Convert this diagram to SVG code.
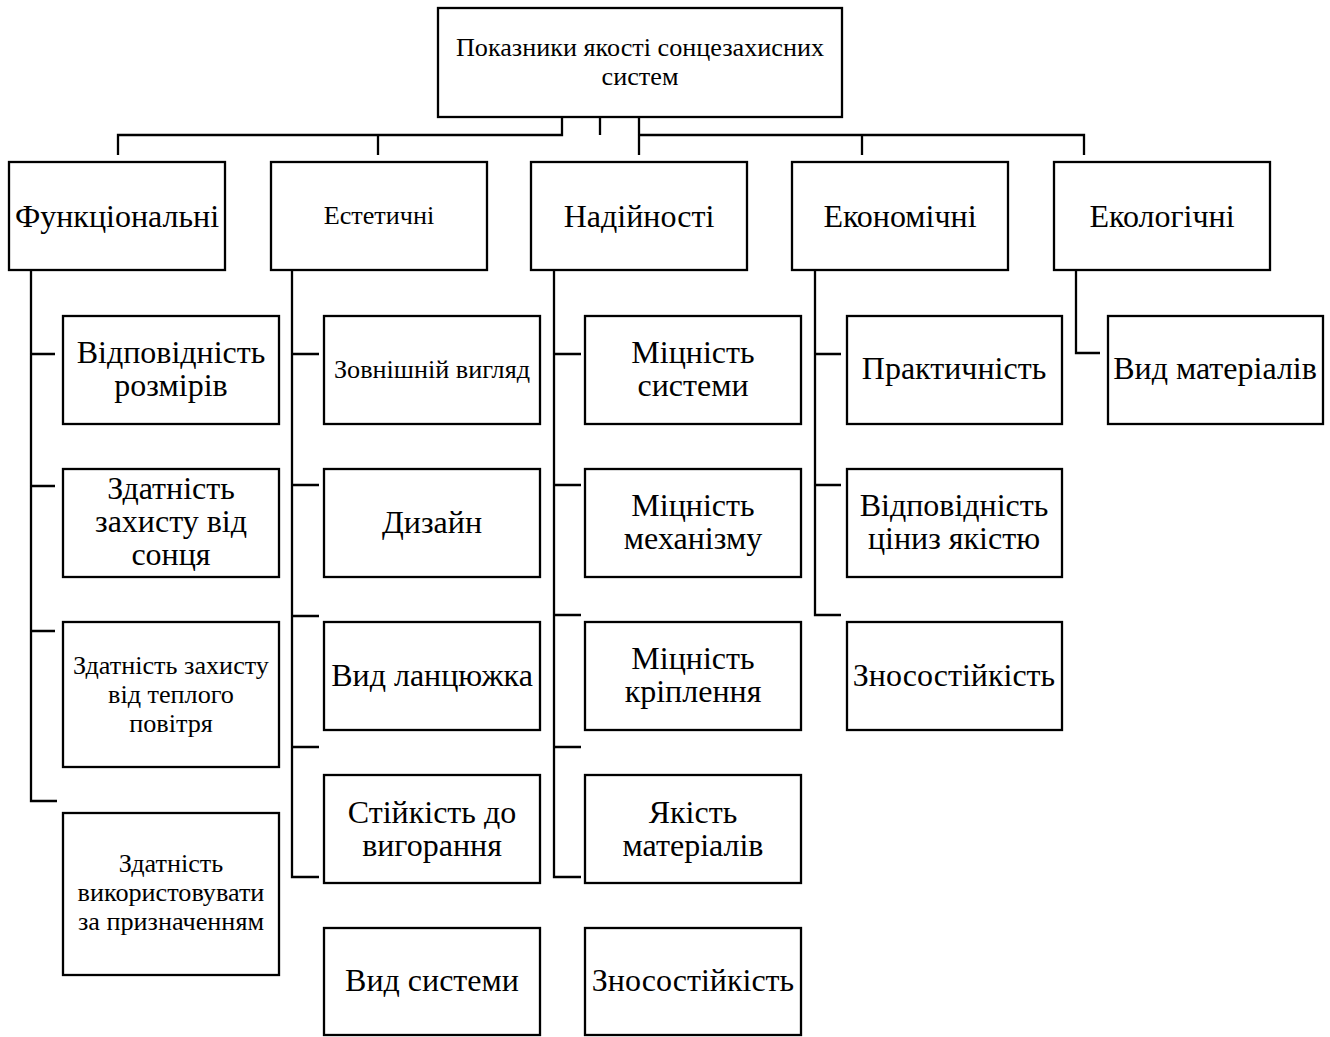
<svg xmlns="http://www.w3.org/2000/svg" width="1330" height="1037" viewBox="0 0 1330 1037">
<style>
.box{fill:#fff;stroke:#000;stroke-width:2.3}
.ln{fill:none;stroke:#000;stroke-width:2.3}
text{font-family:"Liberation Serif","Times New Roman",serif;fill:#000;text-anchor:middle}
.l{font-size:32px}
.s{font-size:26.2px}
</style>
<rect width="1330" height="1037" fill="#fff"/>
<g id="connectors">
<path class="ln" d="M562,117V135H118V155M600,117V135M378,135V155M639,117V155M639,135H1084V155M862,135V155"/>
<path class="ln" d="M31,270V801H57M31,354H55M31,486H55M31,631H55"/>
<path class="ln" d="M292,270V877H319M292,354H319M292,485H319M292,616H319M292,747H319"/>
<path class="ln" d="M554,270V877H581M554,354H581M554,485H581M554,615H581M554,747H581"/>
<path class="ln" d="M815,270V615H841M815,354H841M815,485H841"/>
<path class="ln" d="M1076,270V353H1100"/>
</g>
<g id="root"><rect class="box" x="438" y="8" width="404" height="109"/><text class="s" x="640" y="56">Показники якості сонцезахисних<tspan x="640" y="85">систем</tspan></text></g>
<g id="func"><rect class="box" x="9" y="162" width="216" height="108"/><text class="l" x="117" y="227">Функціональні</text></g>
<g id="est"><rect class="box" x="271" y="162" width="216" height="108"/><text class="s" x="379" y="224">Естетичні</text></g>
<g id="nad"><rect class="box" x="531" y="162" width="216" height="108"/><text class="l" x="639" y="227">Надійності</text></g>
<g id="econ"><rect class="box" x="792" y="162" width="216" height="108"/><text class="l" x="900" y="227">Економічні</text></g>
<g id="eco"><rect class="box" x="1054" y="162" width="216" height="108"/><text class="l" x="1162" y="227">Екологічні</text></g>

<g id="f1"><rect class="box" x="63" y="316" width="216" height="108"/><text class="l" x="171" y="363">Відповідність<tspan x="171" y="396">розмірів</tspan></text></g>
<g id="f2"><rect class="box" x="63" y="469" width="216" height="108"/><text class="l" x="171" y="499">Здатність<tspan x="171" y="532">захисту від</tspan><tspan x="171" y="565">сонця</tspan></text></g>
<g id="f3"><rect class="box" x="63" y="622" width="216" height="145"/><text class="s" x="171" y="674">Здатність захисту<tspan x="171" y="703">від теплого</tspan><tspan x="171" y="732">повітря</tspan></text></g>
<g id="f4"><rect class="box" x="63" y="813" width="216" height="162"/><text class="s" x="171" y="872">Здатність<tspan x="171" y="901">використовувати</tspan><tspan x="171" y="930">за призначенням</tspan></text></g>

<g id="e1"><rect class="box" x="324" y="316" width="216" height="108"/><text class="s" x="432" y="378">Зовнішній вигляд</text></g>
<g id="e2"><rect class="box" x="324" y="469" width="216" height="108"/><text class="l" x="432" y="533">Дизайн</text></g>
<g id="e3"><rect class="box" x="324" y="622" width="216" height="108"/><text class="l" x="432" y="686">Вид ланцюжка</text></g>
<g id="e4"><rect class="box" x="324" y="775" width="216" height="108"/><text class="l" x="432" y="823">Стійкість до<tspan x="432" y="856">вигорання</tspan></text></g>
<g id="e5"><rect class="box" x="324" y="928" width="216" height="107"/><text class="l" x="432" y="991">Вид системи</text></g>

<g id="n1"><rect class="box" x="585" y="316" width="216" height="108"/><text class="l" x="693" y="363">Міцність<tspan x="693" y="396">системи</tspan></text></g>
<g id="n2"><rect class="box" x="585" y="469" width="216" height="108"/><text class="l" x="693" y="516">Міцність<tspan x="693" y="549">механізму</tspan></text></g>
<g id="n3"><rect class="box" x="585" y="622" width="216" height="108"/><text class="l" x="693" y="669">Міцність<tspan x="693" y="702">кріплення</tspan></text></g>
<g id="n4"><rect class="box" x="585" y="775" width="216" height="108"/><text class="l" x="693" y="823">Якість<tspan x="693" y="856">матеріалів</tspan></text></g>
<g id="n5"><rect class="box" x="585" y="928" width="216" height="107"/><text class="l" x="693" y="991">Зносостійкість</text></g>

<g id="c1"><rect class="box" x="847" y="316" width="215" height="108"/><text class="l" x="954" y="379">Практичність</text></g>
<g id="c2"><rect class="box" x="847" y="469" width="215" height="108"/><text class="l" x="954" y="516">Відповідність<tspan x="954" y="549">ціниз якістю</tspan></text></g>
<g id="c3"><rect class="box" x="847" y="622" width="215" height="108"/><text class="l" x="954" y="686">Зносостійкість</text></g>

<g id="k1"><rect class="box" x="1108" y="316" width="215" height="108"/><text class="l" x="1215" y="379">Вид матеріалів</text></g>
</svg>
